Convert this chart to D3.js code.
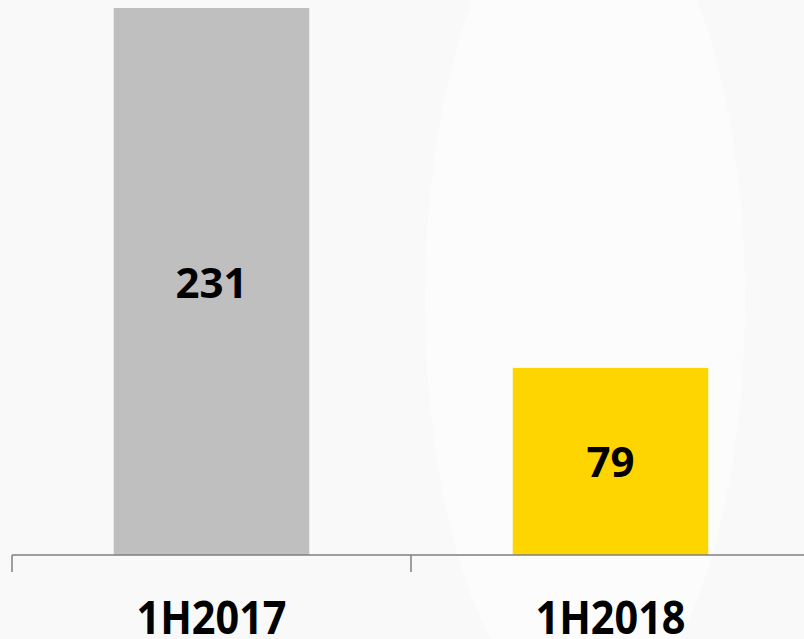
<!DOCTYPE html>
<html>
<head>
<meta charset="utf-8">
<script src="https://cdn.jsdelivr.net/npm/d3@7"></script>
<style>
  html, body { margin: 0; padding: 0; background: #f9f9f9; }
  #chart { width: 804px; height: 639px; }
</style>
</head>
<body>
<div id="chart"></div>
<script>
const categories = ['1H2017', '1H2018'];
const values = [231, 79];
const colours = ['#bfbfbf', '#ffd500'];

const width = 804;
const height = 639;
const margin = { top: 8, right: -6, bottom: 84, left: 12 };

const $svg = d3.select('#chart').append('svg')
  .attr('width', width)
  .attr('height', height);

// faint background shapes
$svg.append('rect')
  .attr('width', width)
  .attr('height', height)
  .attr('fill', '#f9f9f9');

$svg.append('ellipse')
  .attr('cx', 585)
  .attr('cy', 300)
  .attr('rx', 160)
  .attr('ry', 420)
  .attr('fill', '#fcfcfc');

const $plot = $svg.append('g');

const x = d3.scaleBand()
  .domain(categories)
  .range([margin.left, width - margin.right])
  .paddingInner(0.51)
  .paddingOuter(0.255);

const y = d3.scaleLinear()
  .domain([0, 231])
  .range([height - margin.bottom, margin.top]);

const step = x.step();
const y0 = y(0);

// bars
$plot.selectAll('.bar')
  .data(categories)
  .enter()
  .append('rect')
  .attr('class', 'bar')
  .attr('x', d => x(d))
  .attr('y', (d, i) => y(values[i]))
  .attr('width', x.bandwidth())
  .attr('height', (d, i) => y0 - y(values[i]))
  .attr('fill', (d, i) => colours[i]);

// value labels
$plot.selectAll('.value')
  .data(categories)
  .enter()
  .append('text')
  .attr('class', 'value')
  .attr('x', d => x(d) + x.bandwidth() / 2)
  .attr('y', (d, i) => (y(values[i]) + y0) / 2 + 16)
  .attr('text-anchor', 'middle')
  .attr('font-family', '"Open Sans", sans-serif')
  .attr('font-weight', 700)
  .attr('font-size', '42px')
  .attr('fill', '#000')
  .text((d, i) => values[i]);

// axis line and ticks
const $axis = $plot.append('g').attr('class', 'axis x');

$axis.append('line')
  .attr('x1', margin.left)
  .attr('x2', width)
  .attr('y1', y0)
  .attr('y2', y0)
  .attr('stroke', '#7f7f7f')
  .attr('stroke-width', 1.5);

const tickPos = categories.map(d => x(d) - step * 0.255).concat([x(categories[1]) + step * 0.745]);

$axis.selectAll('.tick')
  .data(tickPos)
  .enter()
  .append('line')
  .attr('class', 'tick')
  .attr('x1', d => d)
  .attr('x2', d => d)
  .attr('y1', y0)
  .attr('y2', y0 + 17)
  .attr('stroke', '#7f7f7f')
  .attr('stroke-width', 1.5);

$axis.selectAll('.label')
  .data(categories)
  .enter()
  .append('text')
  .attr('class', 'label')
  .attr('x', d => x(d) + x.bandwidth() / 2)
  .attr('y', 634)
  .attr('text-anchor', 'middle')
  .attr('font-family', '"Open Sans", sans-serif')
  .attr('font-weight', 700)
  .attr('font-size', '47px')
  .attr('textLength', 150)
  .attr('lengthAdjust', 'spacingAndGlyphs')
  .attr('fill', '#000')
  .text(d => d);
</script>
</body>
</html>
